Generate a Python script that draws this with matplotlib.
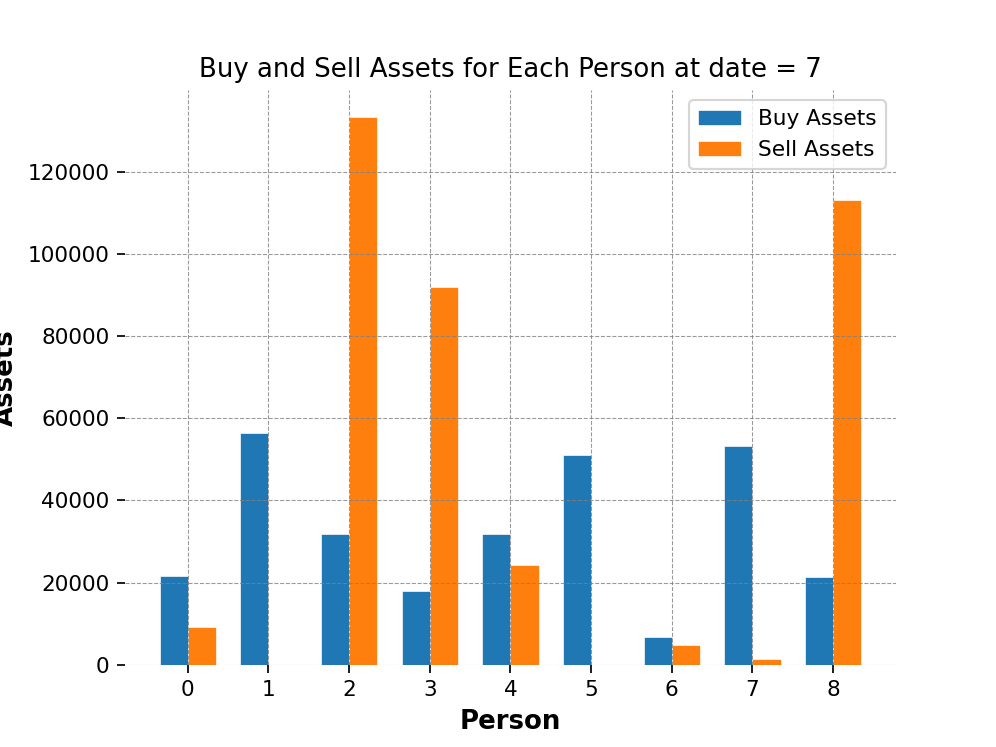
import matplotlib
matplotlib.use("Agg")
import matplotlib.pyplot as plt
import numpy as np

persons = [0, 1, 2, 3, 4, 5, 6, 7, 8]
buy_assets = [21500, 56300, 31800, 18000, 31800, 51000, 6700, 53300, 21300]
sell_assets = [9100, 0, 133300, 92000, 24300, 0, 4900, 1300, 113100]

fig, ax = plt.subplots(figsize=(6.4, 4.8), dpi=155.625)
x = np.arange(len(persons))
w = 0.35
ax.bar(x - w / 2, buy_assets, w, label="Buy Assets", color="#1f77b4",
       edgecolor="white", linewidth=0.3)
ax.bar(x + w / 2, sell_assets, w, label="Sell Assets", color="#ff7f0e",
       edgecolor="white", linewidth=0.3)

ax.set_xticks(x)
ax.set_xticklabels([str(p) for p in persons])
ax.set_title("Buy and Sell Assets for Each Person at date = 7")
ax.set_xlabel("Person", fontsize=12, fontweight="bold")
ax.set_ylabel("Assets", fontsize=12, fontweight="bold")
ax.grid(True, linestyle="--", color="gray", linewidth=0.5, alpha=0.8)
for s in ax.spines.values():
    s.set_visible(False)
ax.legend(loc="upper right")

fig.savefig("out.png", dpi=155.625)
